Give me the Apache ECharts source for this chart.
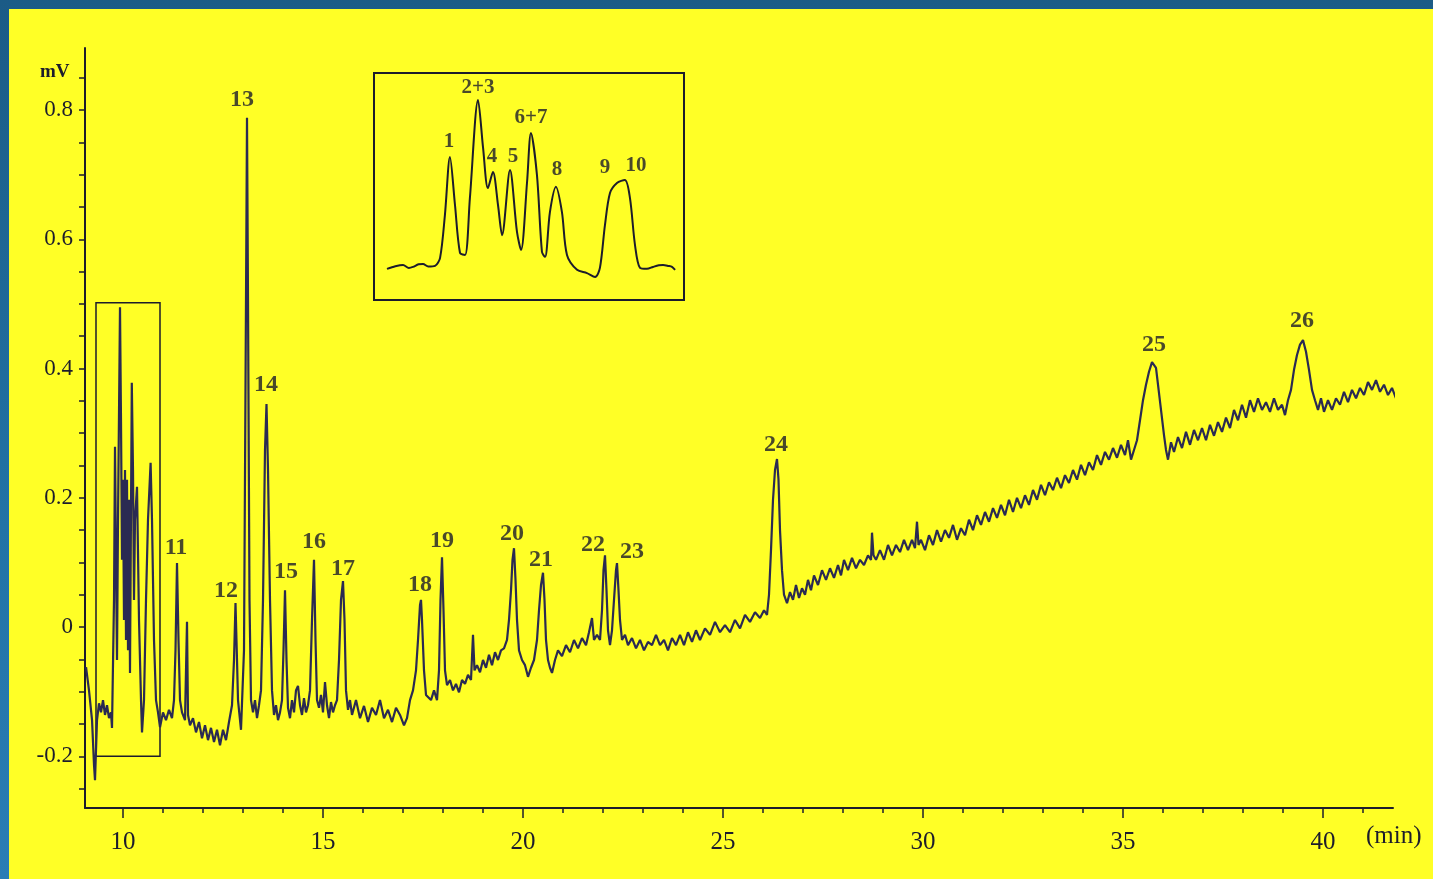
<!DOCTYPE html>
<html><head><meta charset="utf-8">
<script src="https://cdn.jsdelivr.net/npm/echarts@6/dist/echarts.min.js"></script>
<style>
html,body{margin:0;padding:0;width:1433px;height:879px;overflow:hidden;background:linear-gradient(180deg,#1b5b86 0%,#2273a6 60%,#2a7db5 100%);}
#paper{position:absolute;left:9px;top:9px;right:0;bottom:0;background:#ffff26;}
#chart{position:absolute;left:0;top:0;width:1433px;height:879px;}
</style></head>
<body><div id="paper"></div><div id="chart"></div>
<script>
// ---- data (time in min, signal in mV) ----
const traceEarly = [
[9.076,-0.062],[9.15,-0.098],[9.226,-0.144],[9.276,-0.214],[9.30,-0.237],[9.35,-0.144],[9.40,-0.118],[9.45,-0.132],[9.50,-0.113],[9.55,-0.136],[9.60,-0.121],[9.65,-0.141],[9.70,-0.132],[9.725,-0.156],[9.775,0.042],[9.80,0.279],[9.825,0.104],[9.85,-0.051],[9.875,0.166],[9.925,0.495],[9.95,0.32],[9.975,0.104],[10.0,0.228],[10.025,0.011],[10.05,0.243],[10.075,-0.02],[10.10,0.228],[10.125,-0.036],[10.15,0.197],[10.175,-0.071],[10.22,0.378],[10.25,0.243],[10.275,0.042],[10.30,0.166],[10.35,0.217],[10.40,0.011],[10.45,-0.113],[10.475,-0.163],[10.525,-0.113],[10.575,0.042],[10.625,0.166],[10.69,0.254],[10.725,0.166],[10.775,-0.02],[10.825,-0.113],[10.875,-0.132],[10.925,-0.155],
[11.0,-0.132],[11.075,-0.144],[11.15,-0.128],[11.225,-0.141],[11.275,-0.113],[11.3125,-0.036],[11.35,0.099],[11.3875,-0.020],[11.425,-0.113],[11.475,-0.132],[11.55,-0.144],[11.60,0.008],[11.625,-0.136],[11.675,-0.152],[11.75,-0.141],[11.825,-0.163],[11.90,-0.147],[11.975,-0.172],[12.05,-0.152],[12.125,-0.175],[12.20,-0.156],[12.275,-0.178],[12.35,-0.159],[12.425,-0.183],[12.50,-0.159],[12.575,-0.175],[12.65,-0.147],[12.725,-0.121],[12.775,-0.051],[12.8125,0.037],[12.85,-0.051],[12.875,-0.113],[12.95,-0.159],[13.025,-0.036],[13.075,0.506],[13.10,0.788],[13.125,0.506],[13.1625,0.042],[13.20,-0.113],[13.25,-0.132],[13.30,-0.113],[13.35,-0.141],[13.40,-0.121],[13.45,-0.098],[13.50,0.042],[13.55,0.274],[13.5875,0.345],[13.625,0.243],[13.675,0.042],[13.725,-0.098],[13.775,-0.136],[13.825,-0.121],[13.875,-0.144],[13.925,-0.132],[13.975,-0.113],[14.0125,-0.036],[14.05,0.057],[14.0875,-0.051],[14.125,-0.125],[14.175,-0.141],[14.225,-0.113],[14.275,-0.132],[14.325,-0.098],[14.375,-0.091],[14.425,-0.121],[14.475,-0.136],[14.525,-0.110],[14.575,-0.132],[14.625,-0.121],[14.675,-0.098],[14.725,0.011],[14.775,0.104],[14.8125,-0.020],[14.85,-0.113],[14.90,-0.125],[14.95,-0.105],[15.00,-0.132],[15.05,-0.085],[15.10,-0.121],[15.15,-0.141],[15.20,-0.116],[15.25,-0.132],[15.30,-0.121],[15.35,-0.113],[15.40,-0.051],[15.45,0.042],[15.50,0.071],[15.5375,0.011],[15.575,-0.098],[15.625,-0.128],[15.675,-0.113],[15.725,-0.136]
];
const traceMid = [
[15.825,-0.113],[15.925,-0.141],[16.025,-0.122],[16.125,-0.147],[16.225,-0.125],[16.325,-0.136],[16.425,-0.113],[16.525,-0.141],[16.625,-0.128],[16.725,-0.147],[16.825,-0.125],[16.925,-0.136],[17.025,-0.152],[17.10,-0.141],[17.175,-0.113],[17.25,-0.098],[17.325,-0.067],[17.375,-0.020],[17.425,0.034],[17.45,0.042],[17.475,0.011],[17.525,-0.067],[17.575,-0.105],[17.625,-0.102],[17.70,-0.113],[17.775,-0.098],[17.85,-0.113],[17.90,-0.067],[17.9375,0.042],[17.975,0.108],[18.0125,0.026],[18.05,-0.067],[18.10,-0.090],[18.175,-0.082],[18.25,-0.098],[18.325,-0.088],[18.40,-0.101],[18.475,-0.082],[18.55,-0.088],[18.625,-0.074],[18.70,-0.082],[18.75,-0.012],[18.7875,-0.067],[18.85,-0.059],[18.925,-0.070],[19.00,-0.051],[19.075,-0.063],[19.15,-0.043],[19.225,-0.059],[19.30,-0.039],[19.375,-0.051],[19.45,-0.036],[19.525,-0.033],[19.60,-0.020],[19.65,0.011],[19.70,0.057],[19.7375,0.104],[19.775,0.122],[19.8125,0.073],[19.85,0.011],[19.90,-0.036],[19.975,-0.051],[20.05,-0.059],[20.125,-0.077],[20.20,-0.063],[20.275,-0.051],[20.35,-0.020],[20.40,0.026],[20.45,0.065],[20.50,0.084],[20.5375,0.042],[20.575,-0.020],[20.625,-0.051],[20.675,-0.063],[20.725,-0.071],[20.80,-0.051],[20.875,-0.036],[20.975,-0.045],[21.075,-0.028],[21.175,-0.039],[21.275,-0.020],[21.375,-0.033],[21.475,-0.017],[21.575,-0.028],[21.65,-0.008],[21.725,0.014],[21.775,-0.020],[21.85,-0.012],[21.925,-0.020],[21.975,0.026],[22.0125,0.088],[22.05,0.111],[22.0875,0.057],[22.125,-0.005],[22.175,-0.028],[22.225,-0.005],[22.275,0.042],[22.325,0.088],[22.35,0.099],[22.3875,0.057],[22.425,0.011],[22.475,-0.020],[22.55,-0.012],[22.625,-0.028],[22.725,-0.017],[22.825,-0.033],[22.925,-0.020],[23.025,-0.036],[23.125,-0.023],[23.225,-0.028],[23.325,-0.012],[23.425,-0.028],[23.525,-0.020],[23.625,-0.036],[23.725,-0.017],[23.825,-0.028],[23.925,-0.012],[24.025,-0.028],[24.125,-0.008],[24.225,-0.023],[24.325,-0.005],[24.425,-0.020],[24.55,-0.002],[24.675,-0.012],[24.80,0.008],[24.925,-0.008],[25.05,0.003],[25.175,-0.008],[25.30,0.011],[25.425,-0.002],[25.55,0.019],[25.675,0.008],[25.80,0.023],[25.925,0.014],[26.025,0.026],[26.10,0.019],[26.15,0.050],[26.20,0.119],[26.25,0.197],[26.30,0.243],[26.35,0.260],[26.3875,0.228],[26.425,0.150],[26.475,0.088],[26.525,0.050],[26.60,0.037],[26.675,0.054],[26.75,0.042],[26.825,0.065],[26.90,0.045],[26.975,0.060],[27.05,0.050],[27.125,0.073],[27.20,0.057],[27.275,0.080],[27.375,0.065],[27.475,0.088],[27.575,0.073],[27.675,0.091],[27.775,0.076],[27.875,0.096],[27.95,0.080],[28.025,0.104],[28.125,0.088],[28.225,0.107],[28.325,0.091],[28.425,0.104],[28.525,0.096],[28.625,0.111],[28.70,0.104],[28.725,0.146],[28.7625,0.111],[28.825,0.104],[28.925,0.119],[29.025,0.104],[29.125,0.127],[29.225,0.111],[29.325,0.127],[29.425,0.116],[29.525,0.135],[29.625,0.119],[29.725,0.135],[29.80,0.122],[29.85,0.163],[29.8875,0.127],[29.95,0.135]
];
const traceLate = [
[30.05,0.119],[30.15,0.142],[30.25,0.127],[30.35,0.150],[30.45,0.132],[30.55,0.150],[30.65,0.138],[30.75,0.158],[30.85,0.135],[30.95,0.153],[31.05,0.142],[31.15,0.166],[31.25,0.150],[31.35,0.173],[31.45,0.158],[31.55,0.178],[31.65,0.163],[31.75,0.184],[31.85,0.169],[31.95,0.189],[32.05,0.173],[32.15,0.197],[32.25,0.178],[32.35,0.200],[32.45,0.184],[32.55,0.204],[32.65,0.189],[32.75,0.212],[32.85,0.197],[32.95,0.220],[33.05,0.204],[33.15,0.224],[33.25,0.212],[33.35,0.231],[33.45,0.215],[33.55,0.235],[33.65,0.223],[33.75,0.243],[33.85,0.228],[33.95,0.251],[34.05,0.235],[34.15,0.255],[34.25,0.243],[34.35,0.266],[34.45,0.251],[34.55,0.271],[34.65,0.259],[34.75,0.277],[34.85,0.262],[34.95,0.282],[35.05,0.266],[35.125,0.289],[35.20,0.259],[35.275,0.274],[35.35,0.289],[35.425,0.320],[35.50,0.351],[35.575,0.375],[35.65,0.395],[35.725,0.410],[35.775,0.413],[35.825,0.401],[35.875,0.375],[35.95,0.336],[36.025,0.297],[36.075,0.274],[36.125,0.259],[36.20,0.286],[36.275,0.271],[36.375,0.294],[36.475,0.277],[36.575,0.302],[36.675,0.282],[36.775,0.305],[36.875,0.289],[36.975,0.308],[37.075,0.289],[37.175,0.313],[37.275,0.296],[37.375,0.317],[37.475,0.302],[37.575,0.324],[37.675,0.308],[37.775,0.336],[37.875,0.320],[37.975,0.344],[38.075,0.324],[38.175,0.351],[38.275,0.333],[38.375,0.354],[38.475,0.336],[38.575,0.348],[38.675,0.333],[38.775,0.354],[38.875,0.336],[38.975,0.344],[39.05,0.328],[39.125,0.351],[39.20,0.367],[39.275,0.398],[39.35,0.421],[39.425,0.437],[39.50,0.444],[39.575,0.426],[39.65,0.398],[39.725,0.367],[39.80,0.351],[39.875,0.336],[39.95,0.354],[40.025,0.333],[40.125,0.351],[40.225,0.336],[40.325,0.354],[40.425,0.344],[40.525,0.364],[40.625,0.348],[40.725,0.367],[40.825,0.354],[40.925,0.370],[41.025,0.359],[41.125,0.379],[41.225,0.367],[41.325,0.382],[41.425,0.364],[41.525,0.375],[41.625,0.359],[41.725,0.370],[41.825,0.354],[41.90,0.367]
];
const insetTrace = [
[9.397,-0.104],[9.44,-0.096],[9.48,-0.092],[9.51,-0.101],[9.531,-0.098],[9.56,-0.090],[9.583,-0.089],[9.61,-0.097],[9.645,-0.095],[9.671,-0.070],[9.696,0.062],[9.722,0.241],[9.748,0.093],[9.774,-0.055],[9.800,-0.061],[9.825,0.115],[9.867,0.417],[9.893,0.269],[9.918,0.145],[9.944,0.195],[9.970,0.093],[9.991,0.0],[10.032,0.201],[10.068,0.010],[10.089,-0.046],[10.120,0.164],[10.140,0.315],[10.171,0.186],[10.197,-0.052],[10.213,-0.067],[10.238,0.071],[10.269,0.149],[10.300,0.071],[10.326,-0.061],[10.378,-0.107],[10.429,-0.117],[10.471,-0.129],[10.496,-0.101],[10.522,0.031],[10.548,0.130],[10.584,0.161],[10.625,0.170],[10.651,0.115],[10.677,-0.030],[10.703,-0.101],[10.739,-0.104],[10.770,-0.098],[10.80,-0.093],[10.822,-0.092],[10.85,-0.095],[10.868,-0.098],[10.884,-0.107]
];
const peakLabels = [
['11',11.325,0.122],['12',12.575,0.056],['13',12.975,0.816],['14',13.575,0.375],['15',14.075,0.085],['16',14.775,0.132],['17',15.5,0.090],['18',17.425,0.065],['19',17.975,0.133],['20',19.725,0.144],['21',20.45,0.104],['22',21.75,0.127],['23',22.725,0.116],['24',26.325,0.282],['25',35.775,0.437],['26',39.475,0.474]
];
const insetLabels = [
['1',9.717,0.287],['2+3',9.867,0.454],['4',9.939,0.241],['5',10.047,0.241],['6+7',10.14,0.361],['8',10.274,0.201],['9',10.522,0.207],['10',10.682,0.213]
];
const boxRange = {t0:9.325, t1:10.925, v0:-0.20, v1:0.502};
const xTickLabels = [10,15,20,25,30,35,40];
const xMinorTicks = [10,11,12,13,14,15,16,17,18,19,20,21,22,23,24,25,26,27,28,29,30,31,32,33,34,35,36,37,38,39,40,41];
const yTickLabels = [-0.2,0,0.2,0.4,0.6,0.8];
const yMinorTicks = [-0.25,-0.2,-0.15,-0.1,-0.05,0,0.05,0.1,0.15,0.2,0.25,0.3,0.35,0.4,0.45,0.5,0.55,0.6,0.65,0.7,0.75,0.8,0.85];
const xRange = [9.05, 41.75];
const yRange = [-0.28, 0.896];

// ---- chart ----
const FONT = '"Liberation Serif","DejaVu Serif",serif';
const INK = '#1c1c2c';
const TRACE = '#2a2a52';
const chart = echarts.init(document.getElementById('chart'), null, {renderer:'canvas'});
const toPts = a => a.map(p => [p[1], p[2], p[0]]);
const labelSeries = (arr, xi, yi, size) => ({
  type:'scatter', xAxisIndex:xi, yAxisIndex:yi, data: toPts(arr), symbolSize:1,
  itemStyle:{color:'rgba(0,0,0,0)'}, silent:true, z:5,
  label:{show:true, position:'inside', formatter: p => p.data[2], color:INK, fontFamily:FONT, fontWeight:'bold', fontSize:size}
});
chart.setOption({
  backgroundColor:'transparent',
  animation:false,
  grid:[
    {left:85, top:48, width:1308, height:760, show:false},
    {left:374, top:73, width:310, height:227, show:true, borderColor:INK, borderWidth:2, backgroundColor:'transparent'}
  ],
  xAxis:[
    {gridIndex:0, type:'value', position:'bottom', min:xRange[0], max:xRange[1],
     axisLine:{show:true, onZero:false, lineStyle:{color:INK, width:2}},
     axisTick:{show:true, customValues:xMinorTicks, length:5, lineStyle:{color:INK, width:1.5}},
     axisLabel:{show:true, customValues:xTickLabels, margin:22, color:INK, fontFamily:FONT, fontSize:25},
     splitLine:{show:false}},
    {gridIndex:0, type:'value', position:'bottom', min:xRange[0], max:xRange[1],
     axisLine:{show:false, onZero:false}, axisLabel:{show:false},
     axisTick:{show:true, customValues:xTickLabels, length:10, lineStyle:{color:INK, width:1.5}},
     splitLine:{show:false}},
    {gridIndex:1, type:'value', min:boxRange.t0+0.005, max:boxRange.t1+0.005, show:false}
  ],
  yAxis:[
    {gridIndex:0, type:'value', position:'left', min:yRange[0], max:yRange[1],
     axisLine:{show:true, onZero:false, lineStyle:{color:INK, width:2}},
     axisTick:{show:true, customValues:yMinorTicks, length:6, lineStyle:{color:INK, width:1.5}},
     axisLabel:{show:true, customValues:yTickLabels, margin:12, color:INK, fontFamily:FONT, fontSize:23,
       formatter: v => (Math.abs(v) < 1e-9 ? '0' : v.toFixed(1))},
     splitLine:{show:false}},
    {gridIndex:1, type:'value', min:-0.2, max:0.5, show:false}
  ],
  series:[
    {type:'line', xAxisIndex:0, yAxisIndex:0, data: traceEarly.concat(traceMid, traceLate),
     showSymbol:false, clip:false, lineStyle:{color:TRACE, width:2.2}, z:3,
     markArea:{silent:true, itemStyle:{color:'rgba(0,0,0,0)', borderColor:INK, borderWidth:1.5},
       data:[[{coord:[boxRange.t0, boxRange.v1]},{coord:[boxRange.t1, boxRange.v0]}]]}},
    {type:'line', xAxisIndex:2, yAxisIndex:1, data: insetTrace, showSymbol:false, smooth:0.3,
     lineStyle:{color:INK, width:2}, z:3},
    labelSeries(peakLabels, 0, 0, 24),
    labelSeries(insetLabels, 2, 1, 21)
  ],
  graphic:[
    {type:'text', left:40, top:63, style:{text:'mV', fill:INK, font:'bold 19px "Liberation Serif", serif'}},
    {type:'text', left:1366, top:824, style:{text:'(min)', fill:INK, font:'25px "Liberation Serif", serif'}}
  ]
});
</script>
</body></html>
